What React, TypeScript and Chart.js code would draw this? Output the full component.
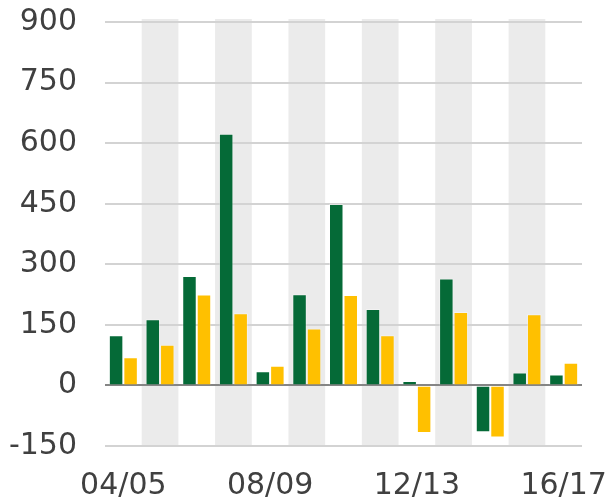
import React, { useEffect, useRef } from "react";
import { Chart, registerables } from "chart.js";

Chart.register(...registerables);

const categories = ["04/05", "05/06", "06/07", "07/08", "08/09", "09/10", "10/11", "11/12", "12/13", "13/14", "14/15", "15/16", "16/17"];
const greenSeries = [124, 164, 271, 623, 35, 226, 449, 189, 11, 265, -116, 32, 27];
const yellowSeries = [70, 101, 225, 179, 49, 141, 224, 124, -118, 182, -129, 176, 56];
const yTicks = [-150, 0, 150, 300, 450, 600, 750, 900];

const bandPlugin = {
  id: "bands",
  beforeDraw(chart: any) {
    const { ctx, chartArea, scales } = chart;
    const x = scales.x;
    const n = categories.length;
    const w = (chartArea.right - chartArea.left) / n;
    ctx.save();
    ctx.fillStyle = "#ebebeb";
    for (let i = 1; i < n; i += 2) {
      const c = x.getPixelForValue(i);
      ctx.fillRect(c - w / 2, chartArea.top - 3, w, chartArea.bottom - chartArea.top + 3);
    }
    ctx.restore();
  },
};

export default function App() {
  const ref = useRef<HTMLCanvasElement>(null);
  useEffect(() => {
    const chart = new Chart(ref.current!, {
      type: "bar",
      data: {
        labels: categories,
        datasets: [
          {
            data: greenSeries,
            backgroundColor: "#056a37",
            borderColor: "rgba(255,255,255,0.35)",
            borderWidth: 1,
            categoryPercentage: 0.79,
            barPercentage: 1,
          },
          {
            data: yellowSeries,
            backgroundColor: "#ffc000",
            borderColor: "rgba(255,255,255,0.35)",
            borderWidth: 1,
            categoryPercentage: 0.79,
            barPercentage: 1,
          },
        ],
      },
      options: {
        animation: false,
        responsive: false,
        maintainAspectRatio: false,
        layout: { padding: { top: 22, right: 28, left: 0, bottom: 0 } },
        plugins: { legend: { display: false }, tooltip: { enabled: false } },
        scales: {
          x: {
            grid: { display: false },
            border: { display: false },
            afterFit: (axis: any) => {
              axis.height = 53;
              axis.paddingLeft = 0;
              axis.paddingRight = 0;
            },
            ticks: {
              autoSkip: false,
              maxRotation: 0,
              minRotation: 0,
              color: "#404040",
              font: { family: "DejaVu Sans", size: 30 },
              padding: 14,
              callback: (_v: any, i: number) => (i % 4 === 0 ? categories[i] : ""),
            },
          },
          y: {
            min: -150,
            max: 900,
            afterBuildTicks: (axis: any) => {
              axis.ticks = yTicks.map((v) => ({ value: v }));
            },
            afterFit: (axis: any) => {
              axis.width = 105;
              axis.paddingTop = 0;
              axis.paddingBottom = 0;
            },
            border: { display: false },
            grid: {
              drawTicks: false,
              lineWidth: 2,
              color: (ctx: any) => (ctx.tick && ctx.tick.value === 0 ? "#858585" : "#d3d3d3"),
            },
            ticks: {
              color: "#404040",
              font: { family: "DejaVu Sans", size: 30 },
              padding: 28,
            },
          },
        },
      },
      plugins: [bandPlugin],
    });
    return () => chart.destroy();
  }, []);
  return (
    <div style={{ position: "absolute", left: 0, top: 0, width: 610, height: 499 }}>
      <canvas ref={ref} width={610} height={499} style={{ width: 610, height: 499 }} />
    </div>
  );
}
